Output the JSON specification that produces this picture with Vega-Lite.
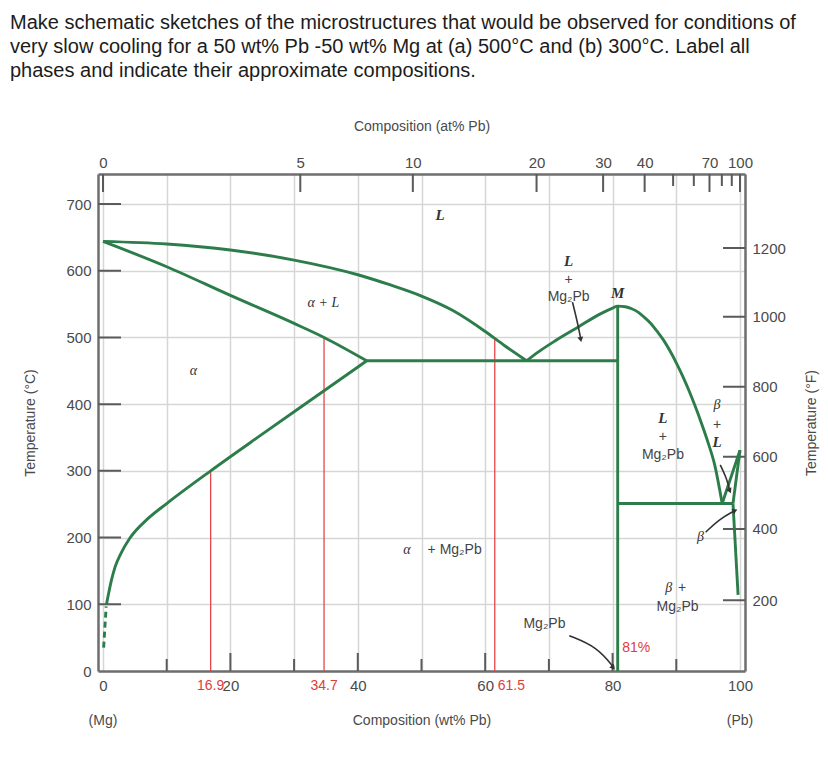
{
  "$schema": "https://vega.github.io/schema/vega-lite/v6.json",
  "width": 647,
  "height": 497,
  "autosize": "none",
  "padding": {"left": 98, "top": 174, "right": 83, "bottom": 94},
  "background": "white",
  "title": {
    "text": [
      "Make schematic sketches of the microstructures that would be observed for conditions of",
      "very slow cooling for a 50 wt% Pb -50 wt% Mg at (a) 500°C and (b) 300°C. Label all",
      "phases and indicate their approximate compositions."
    ],
    "anchor": "start",
    "frame": "group",
    "font": "Liberation Sans",
    "fontSize": 20,
    "fontWeight": "normal",
    "color": "#1c1c1c",
    "lineHeight": 24,
    "dx": -88,
    "dy": 2,
    "offset": 40
  },
  "config": {
    "view": {"stroke": null},
    "axis": {
      "labelFont": "Liberation Sans",
      "labelFontSize": 15,
      "labelColor": "#4a4a4a",
      "titleFont": "Liberation Sans",
      "titleFontSize": 14,
      "titleFontWeight": "normal",
      "titleColor": "#4a4a4a",
      "domainColor": "#6e6e6e",
      "domainWidth": 2.5,
      "gridColor": "#d6d6d6",
      "gridWidth": 1.5,
      "ticks": false
    },
    "text": {"font": "Liberation Sans"}
  },
  "resolve": {"axis": {"x": "independent", "y": "independent"}},
  "datasets": {
    "curves": [
      {"curve": "liquidus Mg side", "w": 0, "T": 644},
      {"curve": "liquidus Mg side", "w": 10, "T": 640},
      {"curve": "liquidus Mg side", "w": 20, "T": 631},
      {"curve": "liquidus Mg side", "w": 30, "T": 616},
      {"curve": "liquidus Mg side", "w": 40, "T": 594},
      {"curve": "liquidus Mg side", "w": 45, "T": 579},
      {"curve": "liquidus Mg side", "w": 50, "T": 562},
      {"curve": "liquidus Mg side", "w": 55, "T": 540},
      {"curve": "liquidus Mg side", "w": 60, "T": 509},
      {"curve": "liquidus Mg side", "w": 63, "T": 488},
      {"curve": "liquidus Mg side", "w": 66.5, "T": 465},
      {"curve": "alpha solidus", "w": 0, "T": 644},
      {"curve": "alpha solidus", "w": 10, "T": 606},
      {"curve": "alpha solidus", "w": 20, "T": 563},
      {"curve": "alpha solidus", "w": 30, "T": 521},
      {"curve": "alpha solidus", "w": 34.7, "T": 500},
      {"curve": "alpha solidus", "w": 41.4, "T": 465},
      {"curve": "alpha solvus", "w": 0.55, "T": 100},
      {"curve": "alpha solvus", "w": 1.3, "T": 135},
      {"curve": "alpha solvus", "w": 1.9, "T": 156},
      {"curve": "alpha solvus", "w": 2.8, "T": 176},
      {"curve": "alpha solvus", "w": 4.2, "T": 199},
      {"curve": "alpha solvus", "w": 7, "T": 228},
      {"curve": "alpha solvus", "w": 10, "T": 251},
      {"curve": "alpha solvus", "w": 16.9, "T": 300},
      {"curve": "alpha solvus", "w": 25, "T": 355},
      {"curve": "alpha solvus", "w": 34.7, "T": 420},
      {"curve": "alpha solvus", "w": 41.4, "T": 465},
      {"curve": "liquidus Mg2Pb", "w": 66.5, "T": 465},
      {"curve": "liquidus Mg2Pb", "w": 68.3, "T": 478},
      {"curve": "liquidus Mg2Pb", "w": 71, "T": 495},
      {"curve": "liquidus Mg2Pb", "w": 74.5, "T": 515},
      {"curve": "liquidus Mg2Pb", "w": 78, "T": 535},
      {"curve": "liquidus Mg2Pb", "w": 80, "T": 544},
      {"curve": "liquidus Mg2Pb", "w": 80.8, "T": 547},
      {"curve": "liquidus Mg2Pb", "w": 82, "T": 546},
      {"curve": "liquidus Mg2Pb", "w": 83, "T": 543},
      {"curve": "liquidus Mg2Pb", "w": 84, "T": 538},
      {"curve": "liquidus Mg2Pb", "w": 85, "T": 530},
      {"curve": "liquidus Mg2Pb", "w": 86, "T": 521},
      {"curve": "liquidus Mg2Pb", "w": 87, "T": 509},
      {"curve": "liquidus Mg2Pb", "w": 88, "T": 496},
      {"curve": "liquidus Mg2Pb", "w": 89, "T": 480},
      {"curve": "liquidus Mg2Pb", "w": 90, "T": 462},
      {"curve": "liquidus Mg2Pb", "w": 91, "T": 442},
      {"curve": "liquidus Mg2Pb", "w": 92, "T": 420},
      {"curve": "liquidus Mg2Pb", "w": 93, "T": 396},
      {"curve": "liquidus Mg2Pb", "w": 94, "T": 370},
      {"curve": "liquidus Mg2Pb", "w": 95, "T": 342},
      {"curve": "liquidus Mg2Pb", "w": 96, "T": 310},
      {"curve": "liquidus Mg2Pb", "w": 97.2, "T": 251}
    ],
    "segments": [
      {"line": "eutectic 466", "w": 41.4, "T": 465, "w2": 80.8, "T2": 465},
      {"line": "eutectic 250", "w": 80.8, "T": 251, "w2": 98.9, "T2": 251},
      {"line": "Mg2Pb", "w": 80.8, "T": 0, "w2": 80.8, "T2": 547},
      {"line": "liquidus Pb side", "w": 97.2, "T": 251, "w2": 100, "T2": 331},
      {"line": "beta solidus", "w": 98.9, "T": 251, "w2": 100, "T2": 331},
      {"line": "beta solvus", "w": 98.9, "T": 251, "w2": 99.7, "T2": 114}
    ],
    "dashed": [
      {"line": "alpha solvus low", "w": 0.1, "T": 35, "w2": 0.5, "T2": 97}
    ],
    "redLines": [
      {"w": 16.9, "T": 300, "label": "16.9"},
      {"w": 34.7, "T": 500, "label": "34.7"},
      {"w": 61.5, "T": 499, "label": "61.5"}
    ],
    "arrows": [
      {"arrow": "a1", "w": 73.7, "T": 553},
      {"arrow": "a1", "w": 74.5, "T": 522},
      {"arrow": "a1", "w": 75.0, "T": 498},
      {"arrow": "a2", "w": 96.9, "T": 309},
      {"arrow": "a2", "w": 97.9, "T": 289},
      {"arrow": "a2", "w": 98.4, "T": 270},
      {"arrow": "a3", "w": 94.6, "T": 208},
      {"arrow": "a3", "w": 96.8, "T": 228},
      {"arrow": "a3", "w": 99.1, "T": 240},
      {"arrow": "a4", "w": 73.2, "T": 53},
      {"arrow": "a4", "w": 77.6, "T": 36},
      {"arrow": "a4", "w": 80.2, "T": 5}
    ],
    "heads": [
      {"arrow": "a1", "w": 75.0, "T": 497},
      {"arrow": "a2", "w": 98.4, "T": 270},
      {"arrow": "a3", "w": 99.1, "T": 240},
      {"arrow": "a4", "w": 80.1, "T": 5}
    ],
    "symbols": [
      {"text": "L", "w": 52.9, "T": 684},
      {"text": "L", "w": 73.1, "T": 614},
      {"text": "M", "w": 80.8, "T": 567},
      {"text": "L", "w": 87.9, "T": 379},
      {"text": "L", "w": 96.4, "T": 344}
    ],
    "greek": [
      {"text": "α  + L", "w": 34.6, "T": 552},
      {"text": "α", "w": 14.2, "T": 450},
      {"text": "α", "w": 47.7, "T": 181},
      {"text": "β", "w": 96.4, "T": 399},
      {"text": "β", "w": 93.8, "T": 201},
      {"text": "β", "w": 88.8, "T": 124}
    ],
    "plain": [
      {"text": "+", "w": 73.1, "T": 586},
      {"text": "Mg₂Pb", "w": 73.1, "T": 560},
      {"text": "+", "w": 87.9, "T": 351},
      {"text": "Mg₂Pb", "w": 87.9, "T": 324},
      {"text": "+", "w": 96.4, "T": 369},
      {"text": "+ Mg₂Pb", "w": 55.2, "T": 181},
      {"text": "+", "w": 90.9, "T": 124},
      {"text": "Mg₂Pb", "w": 90.2, "T": 96},
      {"text": "Mg₂Pb", "w": 69.3, "T": 71}
    ],
    "ends": [
      {"text": "(Mg)", "w": 0},
      {"text": "(Pb)", "w": 100}
    ],
    "bottomMajor": [{"w": 20}, {"w": 40}, {"w": 60}, {"w": 80}],
    "bottomMinor": [{"w": 10}, {"w": 30}, {"w": 50}, {"w": 70}, {"w": 90}],
    "leftTicks": [{"T": 100}, {"T": 200}, {"T": 300}, {"T": 400}, {"T": 500}, {"T": 600}, {"T": 700}],
    "atMajor": [
      {"at": 0, "w": 0},
      {"at": 5, "w": 30.97},
      {"at": 10, "w": 48.64},
      {"at": 20, "w": 68.06},
      {"at": 30, "w": 78.51},
      {"at": 40, "w": 85.03},
      {"at": 70, "w": 95.21},
      {"at": 100, "w": 100}
    ],
    "atMinor": [
      {"at": 50, "w": 89.5},
      {"at": 60, "w": 92.75},
      {"at": 80, "w": 97.15},
      {"at": 90, "w": 98.71}
    ],
    "fTicks": [
      {"F": 200, "C": 106},
      {"F": 400, "C": 213},
      {"F": 600, "C": 321},
      {"F": 800, "C": 426},
      {"F": 1000, "C": 531},
      {"F": 1200, "C": 634}
    ]
  },
  "layer": [
    {
      "data": {"name": "bottomMajor"},
      "mark": {"type": "tick", "orient": "vertical", "color": "#5a5a5a", "thickness": 2, "size": 36, "clip": true, "opacity": 1},
      "encoding": {
        "x": {"field": "w", "type": "quantitative", "scale": {"domain": [0, 100], "nice": false, "zero": false}, "axis": null},
        "y": {"datum": 0, "type": "quantitative", "scale": {"domain": [0, 745], "nice": false}, "axis": null}
      }
    },
    {
      "data": {"name": "bottomMinor"},
      "mark": {"type": "tick", "orient": "vertical", "color": "#5a5a5a", "thickness": 2, "size": 24, "clip": true, "opacity": 1},
      "encoding": {
        "x": {"field": "w", "type": "quantitative", "scale": {"domain": [0, 100], "nice": false, "zero": false}, "axis": null},
        "y": {"datum": 0, "type": "quantitative", "scale": {"domain": [0, 745], "nice": false}, "axis": null}
      }
    },
    {
      "data": {"name": "leftTicks"},
      "mark": {"type": "tick", "orient": "horizontal", "color": "#5a5a5a", "thickness": 2, "size": 36, "clip": true, "opacity": 1},
      "encoding": {
        "y": {"field": "T", "type": "quantitative", "scale": {"domain": [0, 745], "nice": false}, "axis": null},
        "x": {"datum": 0, "type": "quantitative", "scale": {"domain": [0, 100], "nice": false, "zero": false}, "axis": null}
      }
    },
    {
      "data": {"name": "atMajor"},
      "mark": {"type": "tick", "orient": "vertical", "color": "#5a5a5a", "thickness": 2, "size": 36, "clip": true, "opacity": 1},
      "encoding": {
        "x": {
          "field": "w", "type": "quantitative",
          "scale": {"domain": [0, 100], "nice": false, "zero": false},
          "axis": {
            "orient": "top",
            "values": [0, 30.97, 48.64, 68.06, 78.51, 85.03, 95.21, 100],
            "labelExpr": "datum.value < 1 ? '0' : datum.value < 40 ? '5' : datum.value < 60 ? '10' : datum.value < 73 ? '20' : datum.value < 82 ? '30' : datum.value < 90 ? '40' : datum.value < 99 ? '70' : '100'",
            "grid": false,
            "labelPadding": 4,
            "labelFlush": false,
            "title": "Composition (at% Pb)",
            "titlePadding": 22
          }
        },
        "y": {"datum": 745, "type": "quantitative", "scale": {"domain": [0, 745], "nice": false}, "axis": null}
      }
    },
    {
      "data": {"name": "atMinor"},
      "mark": {"type": "tick", "orient": "vertical", "color": "#5a5a5a", "thickness": 2, "size": 24, "clip": true, "opacity": 1},
      "encoding": {
        "x": {"field": "w", "type": "quantitative", "scale": {"domain": [0, 100], "nice": false, "zero": false}, "axis": null},
        "y": {"datum": 745, "type": "quantitative", "scale": {"domain": [0, 745], "nice": false}, "axis": null}
      }
    },
    {
      "data": {"name": "fTicks"},
      "mark": {"type": "tick", "orient": "horizontal", "color": "#5a5a5a", "thickness": 2, "size": 34, "clip": true, "opacity": 1},
      "encoding": {
        "y": {
          "field": "C", "type": "quantitative",
          "scale": {"domain": [0, 745], "nice": false},
          "axis": {
            "orient": "right",
            "values": [106, 213, 321, 426, 531, 634],
            "labelExpr": "format(round((datum.value * 1.8 + 32) / 200) * 200, 'd')",
            "grid": false,
            "labelPadding": 7,
            "title": "Temperature (°F)",
            "titleAngle": -90,
            "titleBaseline": "top",
            "titlePadding": 19
          }
        },
        "x": {"datum": 100, "type": "quantitative", "scale": {"domain": [0, 100], "nice": false, "zero": false}, "axis": null}
      }
    },
    {
      "data": {"name": "redLines"},
      "mark": {"type": "bar", "color": "#e8474a", "size": 1.3},
      "encoding": {
        "x": {"field": "w", "type": "quantitative", "scale": {"domain": [0, 100], "nice": false, "zero": false}, "axis": null},
        "y": {"field": "T", "type": "quantitative", "scale": {"domain": [0, 745], "nice": false}, "axis": null}
      }
    },
    {
      "data": {"name": "curves"},
      "mark": {"type": "line", "interpolate": "monotone", "color": "#2d7d4b", "strokeWidth": 2.9},
      "encoding": {
        "x": {
          "field": "w", "type": "quantitative",
          "scale": {"domain": [0, 100], "nice": false, "zero": false},
          "axis": {
            "orient": "bottom",
            "values": [0, 10, 20, 30, 40, 50, 60, 70, 80, 90, 100],
            "labelExpr": "datum.value % 20 === 0 ? datum.label : ''",
            "grid": true,
            "labelPadding": 7,
            "labelFlush": false,
            "title": "Composition (wt% Pb)",
            "titlePadding": 20
          }
        },
        "y": {
          "field": "T", "type": "quantitative",
          "scale": {"domain": [0, 745], "nice": false},
          "axis": {
            "orient": "left",
            "values": [0, 100, 200, 300, 400, 500, 600, 700],
            "grid": true,
            "labelPadding": 7,
            "labelFlush": false,
            "title": "Temperature (°C)",
            "titlePadding": 28
          }
        },
        "detail": {"field": "curve", "type": "nominal"}
      }
    },
    {
      "data": {"name": "segments"},
      "mark": {"type": "rule", "color": "#2d7d4b", "strokeWidth": 2.9},
      "encoding": {
        "x": {"field": "w", "type": "quantitative", "scale": {"domain": [0, 100], "nice": false, "zero": false}, "axis": null},
        "x2": {"field": "w2"},
        "y": {"field": "T", "type": "quantitative", "scale": {"domain": [0, 745], "nice": false}, "axis": null},
        "y2": {"field": "T2"}
      }
    },
    {
      "data": {"name": "dashed"},
      "mark": {"type": "rule", "color": "#2d7d4b", "strokeWidth": 2.9, "strokeDash": [6, 4]},
      "encoding": {
        "x": {"field": "w", "type": "quantitative", "scale": {"domain": [0, 100], "nice": false, "zero": false}, "axis": null},
        "x2": {"field": "w2"},
        "y": {"field": "T", "type": "quantitative", "scale": {"domain": [0, 745], "nice": false}, "axis": null},
        "y2": {"field": "T2"}
      }
    },
    {
      "data": {"name": "arrows"},
      "mark": {"type": "line", "interpolate": "basis", "color": "#333333", "strokeWidth": 1.6},
      "encoding": {
        "x": {"field": "w", "type": "quantitative", "scale": {"domain": [0, 100], "nice": false, "zero": false}, "axis": null},
        "y": {"field": "T", "type": "quantitative", "scale": {"domain": [0, 745], "nice": false}, "axis": null},
        "detail": {"field": "arrow", "type": "nominal"}
      }
    },
    {
      "data": {"name": "heads"},
      "transform": [{"filter": "datum.arrow === 'a1'"}],
      "mark": {"type": "point", "shape": "triangle-down", "filled": true, "color": "#333333", "size": 35, "angle": -10, "opacity": 1},
      "encoding": {
        "x": {"field": "w", "type": "quantitative", "scale": {"domain": [0, 100], "nice": false, "zero": false}, "axis": null},
        "y": {"field": "T", "type": "quantitative", "scale": {"domain": [0, 745], "nice": false}, "axis": null}
      }
    },
    {
      "data": {"name": "heads"},
      "transform": [{"filter": "datum.arrow === 'a2'"}],
      "mark": {"type": "point", "shape": "triangle-down", "filled": true, "color": "#333333", "size": 35, "angle": -25, "opacity": 1},
      "encoding": {
        "x": {"field": "w", "type": "quantitative", "scale": {"domain": [0, 100], "nice": false, "zero": false}, "axis": null},
        "y": {"field": "T", "type": "quantitative", "scale": {"domain": [0, 745], "nice": false}, "axis": null}
      }
    },
    {
      "data": {"name": "heads"},
      "transform": [{"filter": "datum.arrow === 'a3'"}],
      "mark": {"type": "point", "shape": "triangle", "filled": true, "color": "#333333", "size": 35, "angle": 65, "opacity": 1},
      "encoding": {
        "x": {"field": "w", "type": "quantitative", "scale": {"domain": [0, 100], "nice": false, "zero": false}, "axis": null},
        "y": {"field": "T", "type": "quantitative", "scale": {"domain": [0, 745], "nice": false}, "axis": null}
      }
    },
    {
      "data": {"name": "heads"},
      "transform": [{"filter": "datum.arrow === 'a4'"}],
      "mark": {"type": "point", "shape": "triangle-down", "filled": true, "color": "#333333", "size": 35, "angle": -40, "opacity": 1},
      "encoding": {
        "x": {"field": "w", "type": "quantitative", "scale": {"domain": [0, 100], "nice": false, "zero": false}, "axis": null},
        "y": {"field": "T", "type": "quantitative", "scale": {"domain": [0, 745], "nice": false}, "axis": null}
      }
    },
    {
      "data": {"name": "symbols"},
      "mark": {"type": "text", "font": "Liberation Serif", "fontStyle": "italic", "fontWeight": "bold", "fontSize": 15, "color": "#333333", "baseline": "middle", "align": "center"},
      "encoding": {
        "x": {"field": "w", "type": "quantitative", "scale": {"domain": [0, 100], "nice": false, "zero": false}, "axis": null},
        "y": {"field": "T", "type": "quantitative", "scale": {"domain": [0, 745], "nice": false}, "axis": null},
        "text": {"field": "text", "type": "nominal"}
      }
    },
    {
      "data": {"name": "greek"},
      "mark": {"type": "text", "font": "Liberation Serif", "fontStyle": "italic", "fontSize": 14, "color": "#333333", "baseline": "middle", "align": "center"},
      "encoding": {
        "x": {"field": "w", "type": "quantitative", "scale": {"domain": [0, 100], "nice": false, "zero": false}, "axis": null},
        "y": {"field": "T", "type": "quantitative", "scale": {"domain": [0, 745], "nice": false}, "axis": null},
        "text": {"field": "text", "type": "nominal"}
      }
    },
    {
      "data": {"name": "plain"},
      "mark": {"type": "text", "fontSize": 14, "color": "#444444", "baseline": "middle", "align": "center"},
      "encoding": {
        "x": {"field": "w", "type": "quantitative", "scale": {"domain": [0, 100], "nice": false, "zero": false}, "axis": null},
        "y": {"field": "T", "type": "quantitative", "scale": {"domain": [0, 745], "nice": false}, "axis": null},
        "text": {"field": "text", "type": "nominal"}
      }
    },
    {
      "data": {"values": [{"text": "81%", "w": 81.5, "T": 35}]},
      "mark": {"type": "text", "fontSize": 14, "color": "#e03c3c", "baseline": "middle", "align": "left"},
      "encoding": {
        "x": {"field": "w", "type": "quantitative", "scale": {"domain": [0, 100], "nice": false, "zero": false}, "axis": null},
        "y": {"field": "T", "type": "quantitative", "scale": {"domain": [0, 745], "nice": false}, "axis": null},
        "text": {"field": "text", "type": "nominal"}
      }
    },
    {
      "data": {"name": "redLines"},
      "transform": [{"filter": "datum.w < 50"}],
      "mark": {"type": "text", "fontSize": 14, "color": "#e03c3c", "baseline": "middle", "align": "center", "dy": 15},
      "encoding": {
        "x": {"field": "w", "type": "quantitative", "scale": {"domain": [0, 100], "nice": false, "zero": false}, "axis": null},
        "y": {"datum": 0, "type": "quantitative", "scale": {"domain": [0, 745], "nice": false}, "axis": null},
        "text": {"field": "label", "type": "nominal"}
      }
    },
    {
      "data": {"name": "redLines"},
      "transform": [{"filter": "datum.w > 50"}],
      "mark": {"type": "text", "fontSize": 14, "color": "#e03c3c", "baseline": "middle", "align": "left", "dx": 3, "dy": 15},
      "encoding": {
        "x": {"field": "w", "type": "quantitative", "scale": {"domain": [0, 100], "nice": false, "zero": false}, "axis": null},
        "y": {"datum": 0, "type": "quantitative", "scale": {"domain": [0, 745], "nice": false}, "axis": null},
        "text": {"field": "label", "type": "nominal"}
      }
    },
    {
      "data": {"name": "ends"},
      "mark": {"type": "text", "fontSize": 14, "color": "#4a4a4a", "baseline": "middle", "align": "center", "dy": 50},
      "encoding": {
        "x": {"field": "w", "type": "quantitative", "scale": {"domain": [0, 100], "nice": false, "zero": false}, "axis": null},
        "y": {"datum": 0, "type": "quantitative", "scale": {"domain": [0, 745], "nice": false}, "axis": null},
        "text": {"field": "text", "type": "nominal"}
      }
    }
  ]
}
